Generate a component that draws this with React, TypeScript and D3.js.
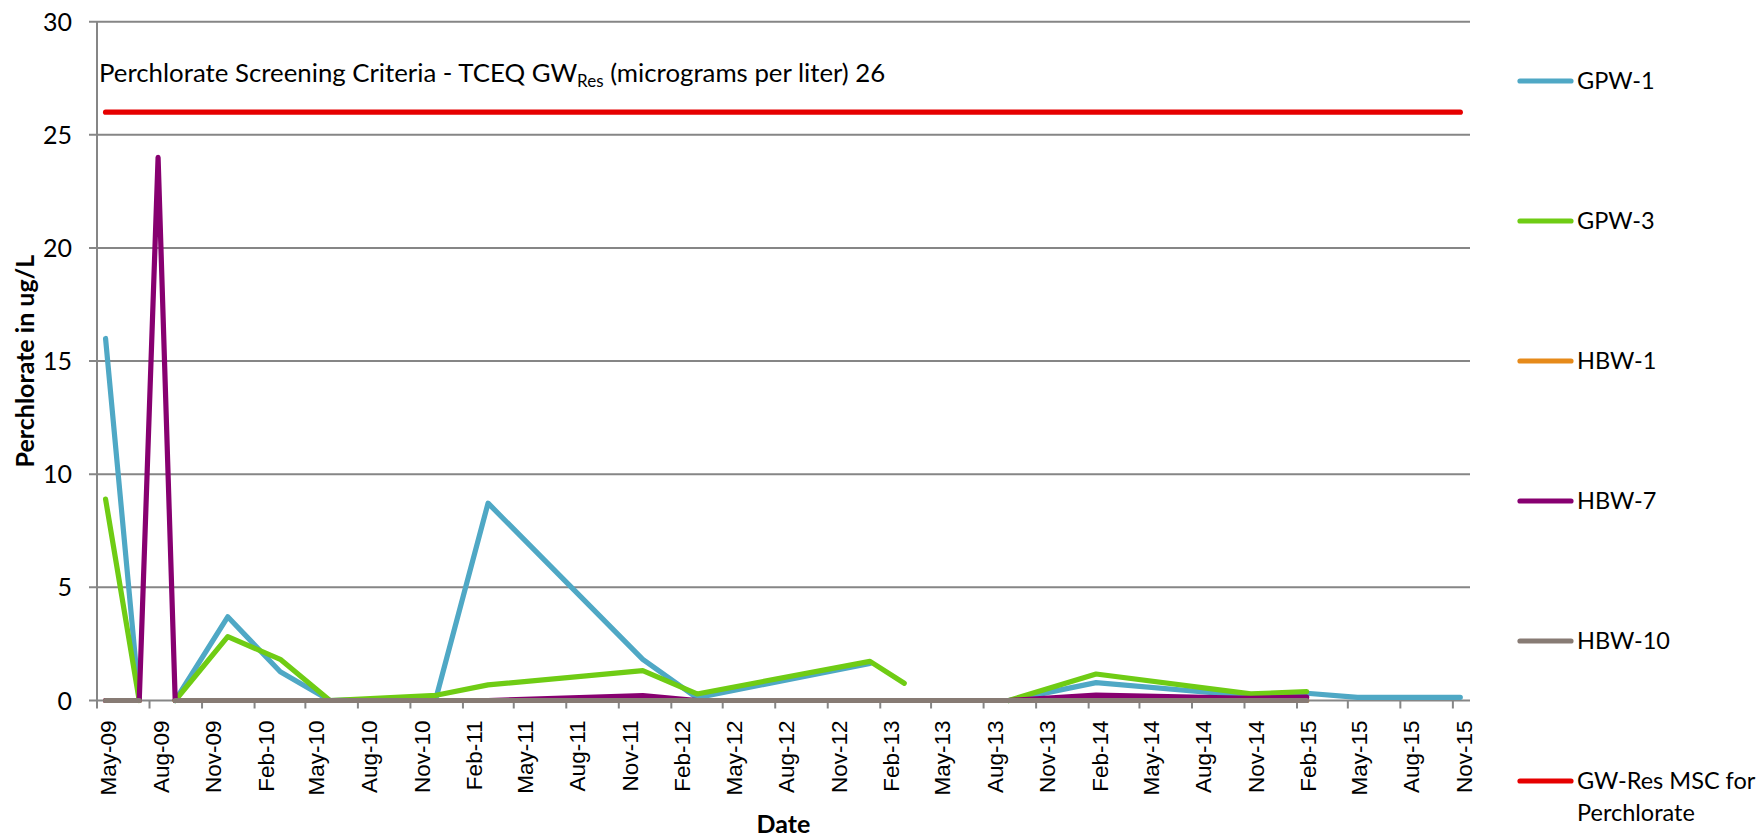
import * as d3 from 'd3';
import React from 'react';

// sample dates (one per sampling event)
const sampleDates = [
  '2009-05-16', '2009-07-14', '2009-08-16', '2009-09-15', '2009-12-16',
  '2010-03-18', '2010-06-13', '2010-12-16', '2011-03-17', '2011-12-13',
  '2012-03-17', '2013-01-14', '2013-03-15', '2013-06-14', '2013-09-14',
  '2014-02-14', '2014-11-12', '2015-02-18', '2015-05-18', '2015-08-17',
  '2015-11-14',
];

// perchlorate results in ug/L, null = not sampled
const gpw1 = [16, 0, null, 0, 3.7, 1.27, 0, 0.12, 8.72, 1.82, 0.12, 1.64, null, null, 0, 0.79, 0.2, 0.32, 0.14, 0.14, 0.14];
const gpw3 = [8.9, 0, null, 0, 2.82, 1.82, 0, 0.23, 0.69, 1.32, 0.29, 1.73, 0.76, null, 0, 1.17, 0.29, 0.39, null, null, null];
const hbw1 = [0, 0, null, 0, 0, 0, 0, 0, 0, 0, 0, 0, 0, 0, 0, 0, 0, 0, null, null, null];
const hbw7 = [0, 0, 24, 0, 0, 0, 0, 0, 0, 0.22, 0, 0, 0, 0, 0, 0.24, 0.1, 0.15, null, null, null];
const hbw10 = [0, 0, null, 0, 0, 0, 0, 0, 0, 0, 0, 0, 0, 0, 0, 0, 0, 0, null, null, null];
const gwRes = [26, 26, 26, 26, 26, 26, 26, 26, 26, 26, 26, 26, 26, 26, 26, 26, 26, 26, 26, 26, 26];

const seriesNames = ['GPW-1', 'GPW-3', 'HBW-1', 'HBW-7', 'HBW-10', 'GW-Res MSC for Perchlorate'];
const seriesValues = [gpw1, gpw3, hbw1, hbw7, hbw10, gwRes];
const seriesColors = ['#4fa8c5', '#6fcc14', '#e68a1a', '#870070', '#877b74', '#e60000'];

const xTickLabels = [
  'May-09', 'Aug-09', 'Nov-09', 'Feb-10', 'May-10', 'Aug-10', 'Nov-10', 'Feb-11', 'May-11',
  'Aug-11', 'Nov-11', 'Feb-12', 'May-12', 'Aug-12', 'Nov-12', 'Feb-13', 'May-13', 'Aug-13',
  'Nov-13', 'Feb-14', 'May-14', 'Aug-14', 'Nov-14', 'Feb-15', 'May-15', 'Aug-15', 'Nov-15',
];
const yTicks = [0, 5, 10, 15, 20, 25, 30];

const width = 1760;
const height = 838;
const left = 97;
const right = 1470;
const top = 21.7;
const bottom = 700.5;

const calibri = 'Lato, "Open Sans", sans-serif';
const arial = '"Liberation Sans", Arial, sans-serif';

const App = () => {
  const parseDay = d3.timeParse('%Y-%m-%d');
  const parseTick = d3.timeParse('%b-%y');
  const dates = sampleDates.map((d) => parseDay(d));
  const tickDates = xTickLabels.map((t) => parseTick(t));

  // date axis runs from May-09 to the start of Dec-15
  const x = d3.scaleTime().domain([new Date(2009, 4, 1), new Date(2015, 11, 1)]).range([left, right]);
  const y = d3.scaleLinear().domain([0, 30]).range([bottom, top]);

  const line = d3
    .line()
    .defined((d) => d[1] != null)
    .x((d) => x(d[0]))
    .y((d) => y(d[1]));

  const legendX = 1520;
  const legendY = (i) => 81 + i * 140;

  return (
    <svg width={width} height={height} style={{ position: 'absolute', left: 0, top: 0, background: '#fff' }}>
      {/* gridlines + y ticks */}
      <g stroke="#868686" strokeWidth="2">
        {yTicks.map((t) => (
          <line key={t} x1={left - 8} x2={right} y1={y(t)} y2={y(t)} />
        ))}
        <line x1={left} x2={left} y1={top} y2={bottom} />
        {tickDates.map((d, i) => (
          <line key={i} x1={x(d)} x2={x(d)} y1={bottom} y2={bottom + 8} />
        ))}
      </g>

      {/* y tick labels */}
      <g fontFamily={calibri} fontSize="25" textAnchor="end" fill="#000">
        {yTicks.map((t) => (
          <text key={t} x={left - 25} y={y(t)} dy="0.36em">
            {t}
          </text>
        ))}
      </g>

      {/* x tick labels */}
      <g fontFamily={arial} fontSize="22.5" textAnchor="end" fill="#000">
        {tickDates.map((d, i) => (
          <text key={i} transform={`translate(${x(d) + 11},${bottom + 20}) rotate(-90)`} dy="0.36em">
            {xTickLabels[i]}
          </text>
        ))}
      </g>

      {/* axis titles */}
      <text
        fontFamily={calibri}
        fontWeight="bold"
        fontSize="25"
        textAnchor="middle"
        transform={`translate(25,${(top + bottom) / 2}) rotate(-90)`}
        dy="0.36em"
      >
        Perchlorate in ug/L
      </text>
      <text fontFamily={calibri} fontWeight="bold" fontSize="25" textAnchor="middle" x={(left + right) / 2} y={833}>
        Date
      </text>

      {/* annotation */}
      <text fontFamily={calibri} fontSize="25.8" x={99} y={81.7}>
        Perchlorate Screening Criteria - TCEQ GW
        <tspan fontSize="17" dy="5">Res</tspan>
        <tspan dy="-5"> (micrograms per liter) 26</tspan>
      </text>

      {/* series */}
      <g fill="none" strokeWidth="5.2" strokeLinecap="round" strokeLinejoin="round">
        {seriesValues.map((vals, i) => (
          <path key={i} stroke={seriesColors[i]} d={line(dates.map((d, j) => [d, vals[j]]))} />
        ))}
      </g>

      {/* legend */}
      <g fontFamily={calibri} fontSize="23.5">
        {seriesNames.map((name, i) => {
          const ly = legendY(i);
          const lines = i === 5 ? ['GW-Res MSC for', 'Perchlorate'] : [name];
          return (
            <g key={name}>
              <line x1={legendX} x2={legendX + 51} y1={ly} y2={ly} stroke={seriesColors[i]} strokeWidth="5.2" strokeLinecap="round" />
              {lines.map((t, k) => (
                <text key={k} x={legendX + 57} y={ly + 8 + k * 32}>
                  {t}
                </text>
              ))}
            </g>
          );
        })}
      </g>
    </svg>
  );
};

export default App;
